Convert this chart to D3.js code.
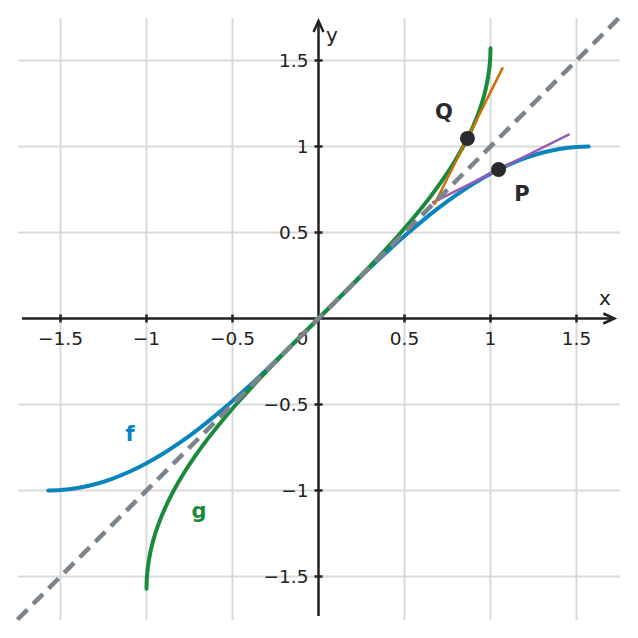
<!DOCTYPE html>
<html><head><meta charset="utf-8">
<script src="https://cdn.jsdelivr.net/npm/d3@7"></script>
<style>body{margin:0;background:#fff}svg{display:block}text{font-family:"DejaVu Sans",sans-serif}</style>
</head><body><svg id="c" width="638" height="638"></svg>
<script>
// f = sin on [-pi/2, pi/2]
const fX = [-1.5708,-1.5,-1.4,-1.3,-1.2,-1.1,-1.0,-0.9,-0.8,-0.7,-0.6,-0.5,-0.4,-0.3,-0.2,-0.1,0,0.1,0.2,0.3,0.4,0.5,0.6,0.7,0.8,0.9,1.0,1.1,1.2,1.3,1.4,1.5,1.5708];
const fY = [-1,-0.9975,-0.9854,-0.9636,-0.9320,-0.8912,-0.8415,-0.7833,-0.7174,-0.6442,-0.5646,-0.4794,-0.3894,-0.2955,-0.1987,-0.0998,0,0.0998,0.1987,0.2955,0.3894,0.4794,0.5646,0.6442,0.7174,0.7833,0.8415,0.8912,0.9320,0.9636,0.9854,0.9975,1];
// g = arcsin on [-1, 1]
const gX = [-1,-0.9975,-0.9854,-0.9636,-0.9320,-0.8912,-0.8415,-0.7833,-0.7174,-0.6442,-0.5646,-0.4794,-0.3894,-0.2955,-0.1987,-0.0998,0,0.0998,0.1987,0.2955,0.3894,0.4794,0.5646,0.6442,0.7174,0.7833,0.8415,0.8912,0.9320,0.9636,0.9854,0.9975,1];
const gY = [-1.5708,-1.5,-1.4,-1.3,-1.2,-1.1,-1.0,-0.9,-0.8,-0.7,-0.6,-0.5,-0.4,-0.3,-0.2,-0.1,0,0.1,0.2,0.3,0.4,0.5,0.6,0.7,0.8,0.9,1.0,1.1,1.2,1.3,1.4,1.5,1.5708];
const diagX = [-1.75, 1.75];
const diagY = [-1.75, 1.75];
const tanPX = [0.66, 1.46];
const tanPY = [0.672, 1.072];
const tanQX = [0.672, 1.072];
const tanQY = [0.66, 1.46];
const pointNames = ["P", "Q"];
const pointX = [1.047, 0.866];
const pointY = [0.866, 1.047];
const ticks = [-1.5, -1, -0.5, 0.5, 1, 1.5];
const tickLabels = ["−1.5", "−1", "−0.5", "0.5", "1", "1.5"];

const svg = d3.select("#c");
const x = d3.scaleLinear().domain([-1.75, 1.75]).range([17.5, 619.5]);
const y = d3.scaleLinear().domain([-1.75, 1.75]).range([619.5, 17.5]);
const ink = "#222";

// grid
const grid = svg.append("g").attr("stroke", "#d9d9d9").attr("stroke-width", 2);
ticks.forEach(t => {
  grid.append("line").attr("x1", x(t)).attr("x2", x(t)).attr("y1", 18).attr("y2", 620);
  grid.append("line").attr("y1", y(t)).attr("y2", y(t)).attr("x1", 18).attr("x2", 620);
});

// axes
const ax = svg.append("g").attr("stroke", ink).attr("stroke-width", 2.5).attr("fill", "none");
ax.append("line").attr("x1", 22).attr("x2", x(1.72)).attr("y1", y(0)).attr("y2", y(0));
ax.append("line").attr("x1", x(0)).attr("x2", x(0)).attr("y1", 616).attr("y2", y(1.73));
ax.append("path").attr("d", `M${x(1.72)-11},${y(0)-5}L${x(1.72)},${y(0)}L${x(1.72)-11},${y(0)+5}`);
ax.append("path").attr("d", `M${x(0)-5},${y(1.73)+11}L${x(0)},${y(1.73)}L${x(0)+5},${y(1.73)+11}`);
ticks.forEach(t => {
  ax.append("line").attr("x1", x(t)).attr("x2", x(t)).attr("y1", y(0)-4).attr("y2", y(0)+4);
  ax.append("line").attr("y1", y(t)).attr("y2", y(t)).attr("x1", x(0)-4).attr("x2", x(0)+4);
});

// tick labels
const tl = svg.append("g").attr("fill", ink).attr("font-size", 18.5);
ticks.forEach((t, i) => {
  tl.append("text").attr("x", x(t)).attr("y", y(0) + 26).attr("text-anchor", "middle").text(tickLabels[i]);
  tl.append("text").attr("x", x(0) - 10).attr("y", y(t) + 6.5).attr("text-anchor", "end").text(tickLabels[i]);
});
tl.append("text").attr("x", x(0) - 16).attr("y", y(0) + 26).attr("text-anchor", "middle").text("0");
tl.append("text").attr("x", 605).attr("y", 305).attr("text-anchor", "middle").attr("font-size", 20).text("x");
tl.append("text").attr("x", 326).attr("y", 42).attr("font-size", 20).text("y");

// curves
const lineX = d3.line().x(d => x(d[0])).y(d => y(d[1])).curve(d3.curveMonotoneX);
const lineY = d3.line().x(d => x(d[0])).y(d => y(d[1])).curve(d3.curveMonotoneY);
const straight = d3.line().x(d => x(d[0])).y(d => y(d[1]));
svg.append("path").attr("d", lineX(d3.zip(fX, fY))).attr("fill", "none").attr("stroke", "#0984bd").attr("stroke-width", 4).attr("stroke-linecap", "round");
svg.append("path").attr("d", lineY(d3.zip(gX, gY))).attr("fill", "none").attr("stroke", "#1a8a3c").attr("stroke-width", 4).attr("stroke-linecap", "round");
svg.append("path").attr("d", straight(d3.zip(tanPX, tanPY))).attr("fill", "none").attr("stroke", "#9b59b6").attr("stroke-width", 2.5);
svg.append("path").attr("d", straight(d3.zip(tanQX, tanQY))).attr("fill", "none").attr("stroke", "#cc7000").attr("stroke-width", 2.5);
svg.append("path").attr("d", straight(d3.zip(diagX, diagY))).attr("fill", "none").attr("stroke", "#7b848b").attr("stroke-width", 4.5).attr("stroke-dasharray", "14,8");

// points
svg.selectAll("circle.pt").data(pointNames).join("circle").attr("class", "pt")
  .attr("cx", (d, i) => x(pointX[i])).attr("cy", (d, i) => y(pointY[i])).attr("r", 7.5).attr("fill", "#2a2a2e");

// labels
const lab = svg.append("g").attr("font-weight", "bold").attr("font-size", 21).attr("text-anchor", "middle");
lab.append("text").attr("x", 522).attr("y", 201).attr("fill", "#2a2a2e").text("P");
lab.append("text").attr("x", 444).attr("y", 119).attr("fill", "#2a2a2e").text("Q");
lab.append("text").attr("x", 130).attr("y", 441).attr("fill", "#0984bd").text("f");
lab.append("text").attr("x", 199).attr("y", 518).attr("fill", "#1a8a3c").text("g");
</script></body></html>
